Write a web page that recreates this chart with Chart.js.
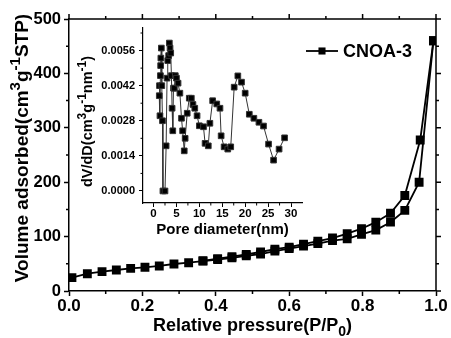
<!DOCTYPE html>
<html><head><meta charset="utf-8">
<script src="https://cdn.jsdelivr.net/npm/chart.js@4.4.1/dist/chart.umd.min.js"></script>
<style>
html,body{margin:0;padding:0;background:#fff;}
#wrap{position:relative;width:451px;height:338px;overflow:hidden;}
canvas{position:absolute;left:0;top:0;}
</style></head><body>
<div id="wrap"><canvas id="main" width="451" height="338"></canvas><canvas id="inset" width="451" height="338"></canvas></div>
<script>
// ---- data ----
const seriesName = 'CNOA-3';
const adsPressure = [0.008,0.05,0.09,0.129,0.168,0.207,0.246,0.286,0.326,0.365,0.405,0.444,0.483,0.522,0.561,0.600,0.639,0.678,0.718,0.758,0.797,0.836,0.876,0.915,0.954,0.993];
const adsorption  = [24.5,31.8,35.5,38.6,41.7,43.6,46.0,49.6,52.0,55.0,57.8,61.0,64.5,68.0,73.5,78.0,82.7,87.2,92.5,96.0,104.0,112.0,126.5,148.3,200.0,460.0];
const desPressure = [0.993,0.957,0.915,0.876,0.836,0.797,0.758,0.718,0.678,0.639,0.600,0.561,0.522,0.483,0.444,0.405,0.365];
const desorption  = [460.0,277.6,175.5,143.0,126.5,114.5,105.5,97.4,91.5,86.0,80.6,76.8,71.7,67.2,63.0,59.5,55.5];
const poreDiameter = [1.25,1.3,1.4,1.5,1.55,1.6,1.7,1.8,1.95,2.05,2.5,2.75,2.95,3.1,3.3,3.45,3.6,3.75,3.9,4.05,4.2,4.35,4.55,4.75,5.0,5.35,5.75,6.1,6.35,6.7,6.9,7.35,7.8,8.25,8.6,9.0,9.5,10.0,10.9,11.25,11.95,12.3,12.9,13.8,14.5,14.75,15.4,16.2,16.85,17.6,18.4,19.2,20.0,20.9,21.9,23.0,24.0,25.1,26.2,27.4,28.6];
const dVdD = [0.0038,0.0042,0.0030,0.0046,0.0050,0.0053,0.0057,0.0042,0.0028,0,0,0.0018,0.0045,0.0052,0.0054,0.0059,0.0057,0.0055,0.0046,0.0033,0.0024,0.0041,0.0041,0.0046,0.0045,0.0043,0.0039,0.0029,0.0024,0.0016,0.0021,0.0031,0.0037,0.0037,0.00345,0.0033,0.0030,0.0026,0.00256,0.0019,0.0018,0.0027,0.0036,0.00347,0.0033,0.0022,0.00176,0.00167,0.00176,0.00414,0.00459,0.00434,0.0039,0.00306,0.0029,0.00274,0.00259,0.00187,0.00123,0.00167,0.00212];
const mainXTicks = [0,0.2,0.4,0.6,0.8,1.0];
const mainXMinor = [0.1,0.3,0.5,0.7,0.9];
const mainYTicks = [0,100,200,300,400,500];
const mainYMinor = [50,150,250,350,450];
const insetXTicks = [0,5,10,15,20,25,30];
const insetXMinor = [2.5,7.5,12.5,17.5,22.5,27.5];
const insetYTicks = [0,0.0014,0.0028,0.0042,0.0056];
const insetYMinor = [0.0007,0.0021,0.0035,0.0049,0.0063];

const FAM = '"Liberation Sans", Arial, sans-serif';

function drawRich(ctx, segs, x, y, size, rotate, supScale) {
  supScale = supScale || 0.72;
  ctx.save();
  ctx.translate(x, y);
  if (rotate) ctx.rotate(-Math.PI / 2);
  const big = 'bold ' + size + 'px ' + FAM;
  const small = 'bold ' + Math.round(size * supScale) + 'px ' + FAM;
  let total = 0;
  segs.forEach(s => { ctx.font = (s.sup || s.sub) ? small : big; s.w = ctx.measureText(s.t).width; total += s.w; });
  let cx = -total / 2;
  ctx.fillStyle = '#000';
  ctx.textBaseline = 'alphabetic';
  ctx.textAlign = 'left';
  segs.forEach(s => {
    ctx.font = (s.sup || s.sub) ? small : big;
    const dy = s.sup ? -size * 0.4 : (s.sub ? size * 0.25 : 0);
    ctx.fillText(s.t, cx, size * 0.36 + dy);
    cx += s.w;
  });
  ctx.restore();
}

function tickMarks(ctx, chart, cfg) {
  const a = chart.chartArea, xs = chart.scales.x, ys = chart.scales.y;
  ctx.save();
  ctx.strokeStyle = '#000';
  ctx.lineWidth = cfg.tw;
  ctx.beginPath();
  cfg.xMinor.forEach(v => { const p = xs.getPixelForValue(v); ctx.moveTo(p, a.bottom); ctx.lineTo(p, a.bottom + cfg.minorLen); });
  cfg.yMinor.forEach(v => { const p = ys.getPixelForValue(v); ctx.moveTo(a.left, p); ctx.lineTo(a.left - cfg.minorLen, p); });
  if (cfg.mirror) {
    cfg.xMinor.forEach(v => { const p = xs.getPixelForValue(v); ctx.moveTo(p, a.top); ctx.lineTo(p, a.top - cfg.minorLen); });
    cfg.xMajor.forEach(v => { const p = xs.getPixelForValue(v); ctx.moveTo(p, a.top); ctx.lineTo(p, a.top - cfg.majorLen); });
    cfg.yMinor.forEach(v => { const p = ys.getPixelForValue(v); ctx.moveTo(a.right, p); ctx.lineTo(a.right + cfg.minorLen, p); });
    cfg.yMajor.forEach(v => { const p = ys.getPixelForValue(v); ctx.moveTo(a.right, p); ctx.lineTo(a.right + cfg.majorLen, p); });
  }
  ctx.stroke();
  if (cfg.mirror) {
    ctx.lineWidth = cfg.bw;
    ctx.beginPath();
    ctx.moveTo(a.left, a.top); ctx.lineTo(a.right, a.top); ctx.lineTo(a.right, a.bottom);
    ctx.stroke();
  }
  ctx.restore();
}

const mainPlugin = {
  id: 'mainDeco',
  afterDraw(chart) {
    const ctx = chart.ctx, a = chart.chartArea;
    tickMarks(ctx, chart, {xMinor: mainXMinor, yMinor: mainYMinor, xMajor: mainXTicks, yMajor: mainYTicks, minorLen: 3, majorLen: 5, tw: 1.5, bw: 1.5, mirror: true});
    // axis titles
    drawRich(ctx, [{t:'Relative pressure(P/P'},{t:'0',sub:true},{t:')'}], (a.left + a.right) / 2, 325, 18, false, 0.75);
    drawRich(ctx, [{t:'Volume adsorbed(cm'},{t:'3',sup:true},{t:'g'},{t:'-1',sup:true},{t:'STP)'}], 21, (a.top + a.bottom) / 2 - 7, 19, true, 0.78);
    // legend
    const ds = chart.data.datasets[0];
    const ly = 51, lx0 = a.right - 130, lx1 = a.right - 98;
    ctx.save();
    ctx.strokeStyle = ds.borderColor; ctx.lineWidth = ds.borderWidth;
    ctx.beginPath(); ctx.moveTo(lx0, ly); ctx.lineTo(lx1, ly); ctx.stroke();
    ctx.fillStyle = ds.backgroundColor;
    const s = ds.pointRadius * Math.SQRT1_2;
    ctx.fillRect((lx0 + lx1) / 2 - s, ly - s, 2 * s, 2 * s);
    ctx.font = 'bold 18px ' + FAM; ctx.textBaseline = 'middle'; ctx.textAlign = 'left';
    ctx.fillText(ds.label, lx1 + 5, ly + 1);
    ctx.restore();
  }
};

const insetPlugin = {
  id: 'insetDeco',
  afterDraw(chart) {
    const ctx = chart.ctx, a = chart.chartArea;
    tickMarks(ctx, chart, {xMinor: insetXMinor, yMinor: insetYMinor, xMajor: insetXTicks, yMajor: insetYTicks, minorLen: 2.5, majorLen: 4, tw: 1, bw: 1, mirror: false});
    drawRich(ctx, [{t:'Pore diameter(nm)'}], (a.left + a.right) / 2, 229, 15, false);
    drawRich(ctx, [{t:'dV/dD(cm'},{t:'3',sup:true},{t:'g'},{t:'-1',sup:true},{t:'nm'},{t:'-1',sup:true},{t:')'}], 87, (a.top + a.bottom) / 2 + 6, 14.5, true, 0.8);
  }
};

const pts = (xs, ys) => xs.map((x, i) => ({x: x, y: ys[i]}));

new Chart(document.getElementById('main'), {
  type: 'scatter',
  data: { datasets: [
    { label: seriesName, data: pts(adsPressure, adsorption), showLine: true, borderColor: '#000', backgroundColor: '#000', borderWidth: 1.8, pointStyle: 'rect', pointRadius: 5, pointHoverRadius: 5, tension: 0 },
    { label: seriesName + ' desorption', data: pts(desPressure, desorption), showLine: true, borderColor: '#000', backgroundColor: '#000', borderWidth: 1.8, pointStyle: 'rect', pointRadius: 5, pointHoverRadius: 5, tension: 0 }
  ]},
  options: {
    responsive: false, animation: false, devicePixelRatio: 1,
    layout: { padding: { top: 19, right: 15, left: 0, bottom: 0 } },
    plugins: { legend: { display: false }, tooltip: { enabled: false } },
    scales: {
      x: { type: 'linear', min: 0, max: 1,
        afterBuildTicks: s => { s.ticks = mainXTicks.map(v => ({value: v})); },
        afterFit: s => { s.height = 47; },
        ticks: { callback: v => v.toFixed(1), color: '#000', font: { family: FAM, size: 17, weight: 'bold' }, padding: 0, maxRotation: 0, autoSkip: false },
        grid: { drawOnChartArea: false, tickLength: 5, tickColor: '#000', tickWidth: 1.5 },
        border: { color: '#000', width: 1.5 } },
      y: { type: 'linear', min: 0, max: 500,
        afterBuildTicks: s => { s.ticks = mainYTicks.map(v => ({value: v})); },
        afterFit: s => { s.width = 69; },
        ticks: { callback: v => String(v), color: '#000', font: { family: FAM, size: 16.5, weight: 'bold' }, padding: 3, autoSkip: false },
        grid: { drawOnChartArea: false, tickLength: 5, tickColor: '#000', tickWidth: 1.5 },
        border: { color: '#000', width: 1.5 } }
    }
  },
  plugins: [mainPlugin]
});

new Chart(document.getElementById('inset'), {
  type: 'scatter',
  data: { datasets: [
    { label: 'dV/dD', data: pts(poreDiameter, dVdD), showLine: true, borderColor: '#333', backgroundColor: '#000', borderWidth: 1, pointStyle: 'rect', pointRadius: 4, pointHoverRadius: 4, tension: 0 }
  ]},
  options: {
    responsive: false, animation: false, devicePixelRatio: 1,
    layout: { padding: { top: 28, right: 149, left: 0, bottom: 0 } },
    plugins: { legend: { display: false }, tooltip: { enabled: false } },
    scales: {
      x: { type: 'linear', min: -2.3, max: 32.4,
        afterBuildTicks: s => { s.ticks = insetXTicks.map(v => ({value: v})); },
        afterFit: s => { s.height = 135; },
        ticks: { callback: v => String(v), color: '#000', font: { family: FAM, size: 11.5, weight: 'bold' }, padding: 0, maxRotation: 0, autoSkip: false },
        grid: { drawOnChartArea: false, tickLength: 4, tickColor: '#000', tickWidth: 1 },
        border: { color: '#000', width: 1.2 } },
      y: { type: 'linear', min: -0.00048, max: 0.0065,
        afterBuildTicks: s => { s.ticks = insetYTicks.map(v => ({value: v})); },
        afterFit: s => { s.width = 143; },
        ticks: { callback: v => v.toFixed(4), color: '#000', font: { family: FAM, size: 11, weight: 'bold' }, padding: 4, autoSkip: false },
        grid: { drawOnChartArea: false, tickLength: 4, tickColor: '#000', tickWidth: 1 },
        border: { color: '#000', width: 1.2 } }
    }
  },
  plugins: [insetPlugin]
});
</script>
</body></html>
